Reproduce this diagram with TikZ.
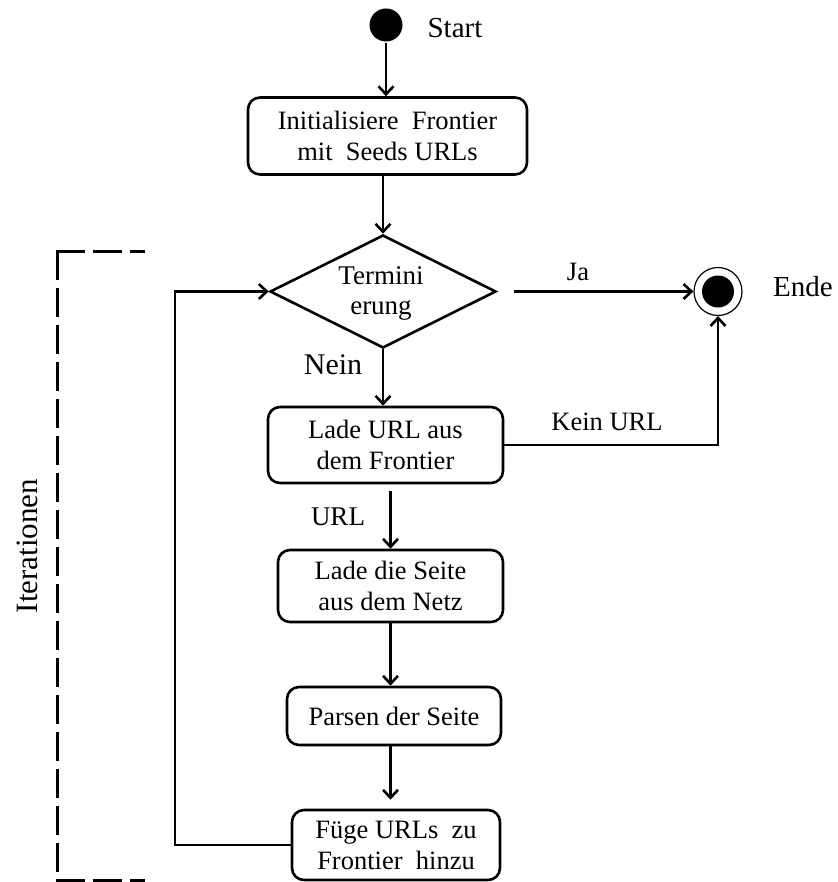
\documentclass[tikz,border=0pt]{standalone}
\usepackage{fontspec}
\setmainfont{Liberation Serif}
\usetikzlibrary{arrows.meta,shapes.geometric,calc}
\begin{document}
\begin{tikzpicture}[x=1pt,y=-1pt,
  line width=2.6pt,
  arr/.style={-{Straight Barb[length=8pt,width=15pt,line width=2.6pt]}},
  box/.style={draw, rounded corners=12pt, align=center, inner sep=0pt,
    font=\fontsize{26.5}{31}\selectfont},
  lbl/.style={font=\fontsize{29}{32}\selectfont, inner sep=0pt},
  bracketline/.style={line width=3pt, dash pattern=on 26pt off 11pt, line cap=rect}]
\useasboundingbox (0,0) rectangle (837,882);
% nodes
\node[circle, fill, minimum size=33pt, inner sep=0pt] (start) at (386,25) {};
\node[lbl] (tstart) at (455,28) {Start};
\node[box, minimum width=279pt, minimum height=77pt] (b1) at (387.5,136)
  {Initialisiere\ \ Frontier\\mit\ \ Seeds URLs};
\node[diamond, draw, minimum width=226pt, minimum height=113pt, inner sep=0pt] (dia) at (383,291.5) {};
\node[align=center, inner sep=0pt, font=\fontsize{27}{30}\selectfont] (tdia) at (381,293) {Termini\\erung};
\node[box, minimum width=235pt, minimum height=76pt] (b2) at (385.5,445)
  {Lade URL aus\\dem Frontier};
\node[box, minimum width=225pt, minimum height=72pt] (b3) at (390.5,586)
  {Lade die Seite\\aus dem Netz};
\node[box, minimum width=214pt, minimum height=58pt] (b4) at (394,716)
  {Parsen der Seite};
\node[box, minimum width=208pt, minimum height=70pt] (b5) at (396,845)
  {F\"uge URLs\ \ zu\\Frontier\ \ hinzu};
\node[circle, draw, line width=1.2pt, minimum size=48pt, inner sep=0pt] (ende) at (718,291.5) {};
\fill (ende.center) circle (16);
\node[lbl] (tende) at (803,287) {Ende};
\coordinate (loopx) at (175,0);
% labels
\node[lbl, font=\fontsize{26.5}{30}\selectfont] (tja) at (578,272) {Ja};
\node[lbl, font=\fontsize{30}{32}\selectfont] (tnein) at (333,365) {Nein};
\node[lbl, font=\fontsize{26.5}{30}\selectfont] (tkein) at (607,422) {Kein URL};
\node[lbl, font=\fontsize{27}{30}\selectfont] (turl) at (338,517) {URL};
\node[lbl, rotate=90, font=\fontsize{31}{32}\selectfont] (titer) at (27,546) {Iterationen};
% connectors
\draw[arr] (start.south) -- (start.south |- b1.north);
\draw[arr] (dia.north |- b1.south) -- (dia.north);
\draw[arr] (dia.south) -- (dia.south |- b2.north);
\draw[arr] ($(b3.north |- b2.south)+(0,7)$) -- (b3.north);
\draw[arr] (b3.south) -- (b3.south |- b4.north);
\draw[arr] (b3.south |- b4.south) -- ($(b3.south |- b5.north)+(0,-9)$);
\draw[arr] (b5.west) -- (b5.west -| loopx) |- (dia.west);
\draw[arr] ($(dia.east)+(17,0)$) -- (ende.west);
\draw[arr] (b2.east) -| (ende.south);
% bracket
\draw[bracketline] (57,252) -- (143,252);
\draw[bracketline] (57,252) -- (57,880);
\draw[bracketline] (57,880) -- (143,880);
\end{tikzpicture}
\end{document}
